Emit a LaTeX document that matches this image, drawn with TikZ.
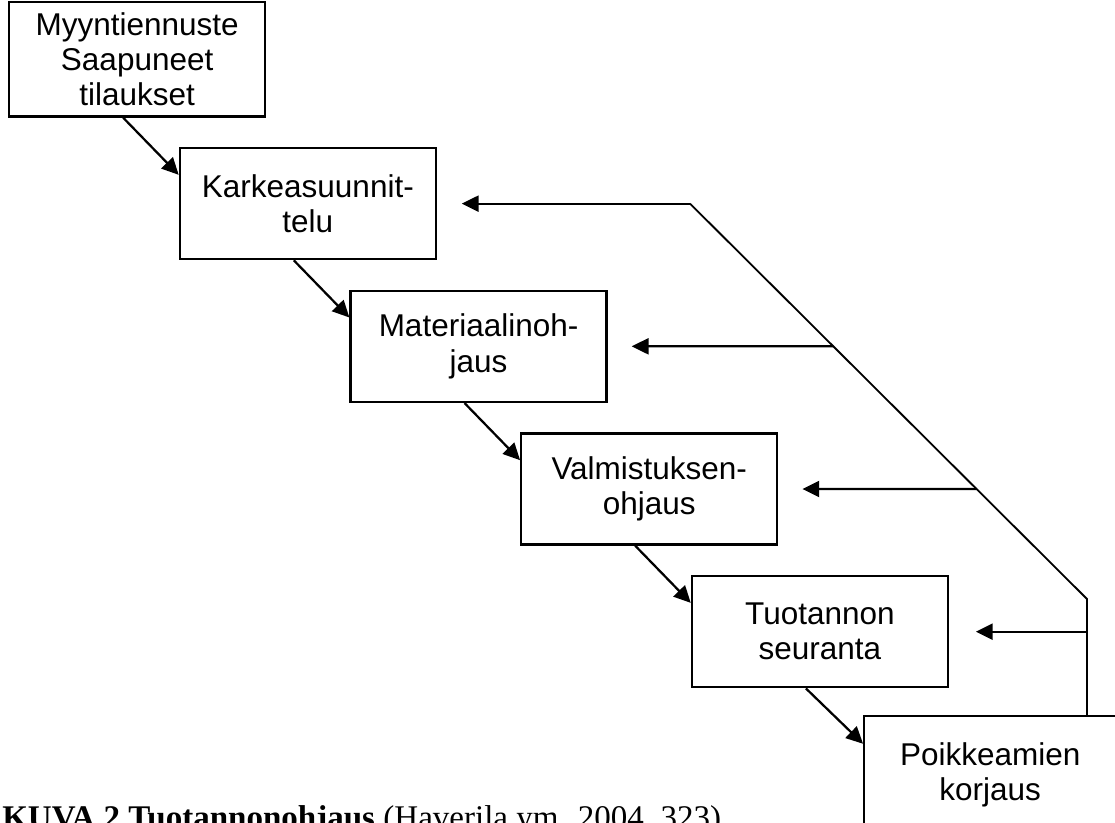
\documentclass[tikz,border=0pt]{standalone}
\usepackage{fontspec}
\setmainfont{Liberation Serif}
\newfontfamily\arialfont{Liberation Sans}
\usetikzlibrary{arrows.meta,positioning}

\begin{document}
\begin{tikzpicture}[x=0.025cm, y=-0.025cm,
  node distance=0.73cm and -2.19cm,
  stage/.style={draw, line width=1.6pt, minimum width=6.4cm, minimum height=2.78cm,
    align=center, inner sep=2pt, font=\arialfont\fontsize{22.4}{25}\selectfont},
  flow/.style={line width=1.6pt, -{Triangle[length=0.42cm, width=0.4cm]}},
  back/.style={line width=1.3pt}]
  \clip (0,0) rectangle (1115,822);
  \node[stage, anchor=north west, minimum height=2.86cm] (plan) at (8,1) {Myyntiennuste\\Saapuneet\\tilaukset};
  \node[stage, below right=of plan] (rough) {Karkeasuunnit-\\telu};
  \node[stage, below right=of rough] (mat) {Materiaalinoh-\\jaus};
  \node[stage, below right=of mat] (prod) {Valmistuksen-\\ohjaus};
  \node[stage, below right=of prod] (track) {Tuotannon\\seuranta};
  \node[stage, below right=0.66cm and -2.15cm of track, minimum width=6.3cm, minimum height=2.95cm] (fix) {Poikkeamien\\korjaus};
  % forward chain
  \draw[flow] ([xshift=-0.35cm]plan.south) -- ([yshift=0.72cm]rough.west);
  \draw[flow] ([xshift=-0.35cm]rough.south) -- ([yshift=0.72cm]mat.west);
  \draw[flow] ([xshift=-0.35cm]mat.south) -- ([yshift=0.72cm]prod.west);
  \draw[flow] ([xshift=-0.35cm]prod.south) -- ([yshift=0.72cm]track.west);
  \draw[flow] ([xshift=-0.35cm]track.south) -- ([yshift=0.78cm]fix.west);
  % feedback line
  \coordinate (top) at (rough.east -| 690,0);
  \coordinate (knee) at (1087,599);
  \coordinate (far3) at ([xshift=20cm]mat.east);
  \coordinate (far4) at ([xshift=20cm]prod.east);
  \coordinate (j3) at (intersection of top--knee and mat.east--far3);
  \coordinate (j4) at (intersection of top--knee and prod.east--far4);
  \draw[back] (fix.north -| knee) -- (knee) -- (top);
  \draw[flow] (top) -- ([xshift=0.62cm]rough.east);
  \draw[flow] (j3) -- ([xshift=0.6cm]mat.east);
  \draw[flow] (j4) -- ([xshift=0.6cm]prod.east);
  \draw[flow] (track.east -| knee) -- ([xshift=0.67cm]track.east);
  % caption
  \node[anchor=base west, inner sep=0pt, font=\fontsize{23.5}{28}\selectfont] (cap) at (2,828)
    {\textbf{KUVA 2 Tuotannonohjaus} (Haverila ym. 2004, 323)};
\end{tikzpicture}
\end{document}
